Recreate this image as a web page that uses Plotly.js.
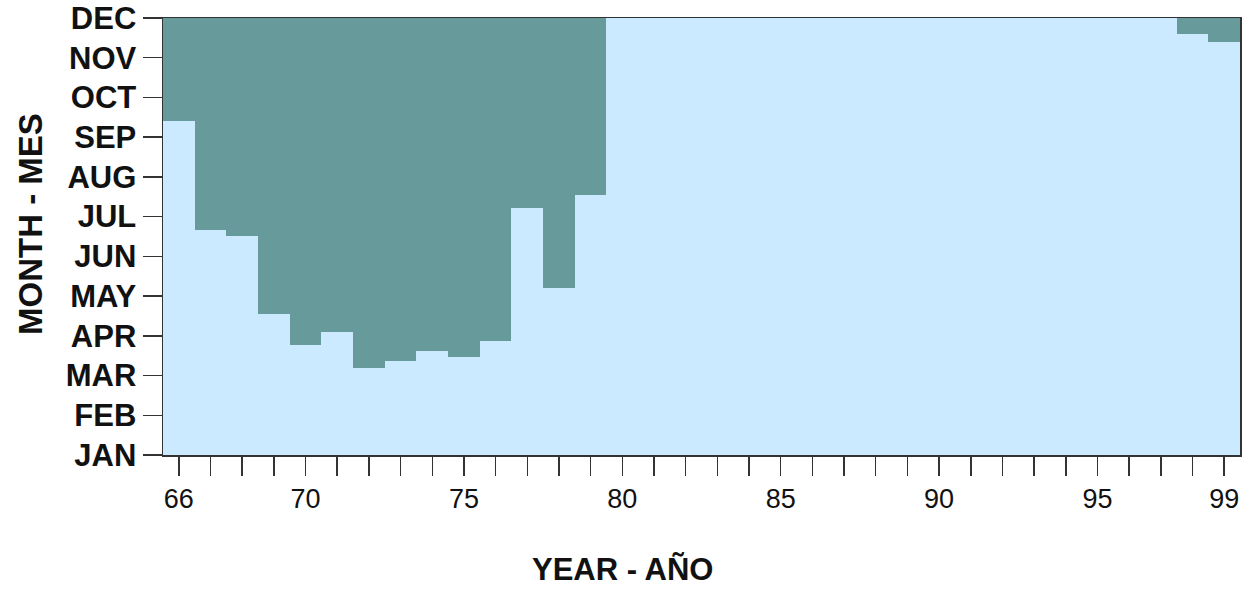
<!DOCTYPE html>
<html>
<head>
<meta charset="utf-8">
<script src="https://cdn.plot.ly/plotly-3.0.1.min.js"></script>
<style>html,body{margin:0;padding:0;background:#fff;}</style>
</head>
<body>
<div id="chart" style="width:1249px;height:589px;"></div>
<script>
// Years (19xx) shown on the x axis
const years = [66,67,68,69,70,71,72,73,74,75,76,77,78,79,80,81,82,83,84,85,86,87,88,89,90,91,92,93,94,95,96,97,98,99];
// Lower boundary (month, 1=JAN .. 12=DEC) of the dark period for each year; null = none
const boundary = [9.40,6.66,6.52,4.55,3.78,4.09,3.19,3.36,3.62,3.47,3.88,7.22,5.20,7.55,
  null,null,null,null,null,null,null,null,null,null,null,null,null,null,null,null,null,null,
  11.60,11.39];
const monthLabels = ['JAN','FEB','MAR','APR','MAY','JUN','JUL','AUG','SEP','OCT','NOV','DEC'];
const monthVals = [1,2,3,4,5,6,7,8,9,10,11,12];
const labeledYears = [66,70,75,80,85,90,95,99];

const TOP = 12;
const bx = [], bb = [], bh = [];
years.forEach((yr, i) => {
  if (boundary[i] !== null) { bx.push(yr); bb.push(boundary[i]); bh.push(TOP - boundary[i]); }
});

const trace = {
  type: 'bar', x: bx, y: bh, base: bb, width: 1,
  marker: {color: '#679a9a', line: {width: 0}},
  hoverinfo: 'none'
};

const axisFont = {family: 'Liberation Sans, Arial, sans-serif', color: '#111'};
const layout = {
  width: 1249, height: 589,
  margin: {l: 163, r: 9, t: 18, b: 134},
  paper_bgcolor: '#ffffff',
  plot_bgcolor: '#cceaff',
  showlegend: false,
  bargap: 0,
  xaxis: {
    range: [65.5, 99.5],
    tickvals: years,
    ticktext: years.map(y => labeledYears.includes(y) ? String(y) : ''),
    ticks: 'outside', ticklen: 19, tickwidth: 1.5, tickcolor: '#333',
    showline: true, linecolor: '#333', linewidth: 1.5, mirror: true,
    showgrid: false, zeroline: false,
    tickfont: Object.assign({size: 27}, axisFont),
    ticklabelstandoff: 0
  },
  yaxis: {
    range: [1, 12],
    tickvals: monthVals,
    ticktext: monthLabels,
    ticks: 'outside', ticklen: 19, tickwidth: 1.5, tickcolor: '#333',
    showline: true, linecolor: '#333', linewidth: 1.5, mirror: true,
    showgrid: false, zeroline: false,
    tickfont: Object.assign({size: 31, weight: 'bold'}, axisFont),
    ticklabelstandoff: 0
  },
  annotations: [
    {text: 'YEAR - AÑO', xref: 'paper', yref: 'paper', x: 0.427, y: -0.262,
     xanchor: 'center', yanchor: 'middle', showarrow: false,
     font: Object.assign({size: 31, weight: 'bold'}, axisFont)},
    {text: 'MONTH - MES', xref: 'paper', yref: 'paper', x: -0.1235, y: 0.5286,
     xanchor: 'center', yanchor: 'middle', showarrow: false, textangle: -90,
     font: Object.assign({size: 33, weight: 'bold'}, axisFont)}
  ]
};

Plotly.newPlot('chart', [trace], layout, {displayModeBar: false, staticPlot: true});
</script>
</body>
</html>
